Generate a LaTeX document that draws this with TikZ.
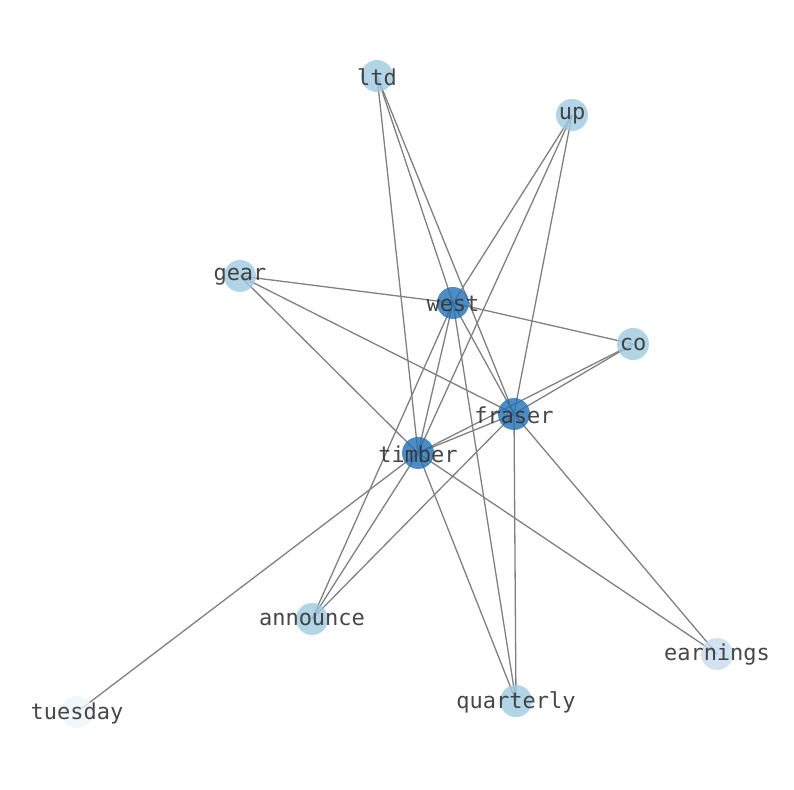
\documentclass[tikz,border=0pt]{standalone}
\usepackage{fontspec}
\setmonofont{DejaVu Sans Mono}
\usepackage{tikz}
\usetikzlibrary{backgrounds}
\definecolor{darkword}{HTML}{2171B5}
\definecolor{midword}{HTML}{9ECAE1}
\definecolor{paleword}{HTML}{C6DBEF}
\definecolor{faintword}{HTML}{EEF5FC}
\definecolor{wordtext}{HTML}{333333}
\tikzset{
    word/.style={circle, inner sep=0pt, minimum size=16pt, fill opacity=0.8, draw=none},
    wordlabel/.style={text=wordtext, font=\ttfamily\fontsize{11pt}{11pt}\selectfont, text opacity=0.9, yshift=-0.5pt},
    edge/.style={draw=gray, line width=0.65pt}
}

\begin{document}
\begin{tikzpicture}[x=0.5pt, y=-0.5pt]
    \useasboundingbox (0,0) rectangle (794,790);
    % Word nodes
    \node (ltd) [word, fill=midword] at (377,76) {};
    \node (up) [word, fill=midword] at (572,115) {};
    \node (gear) [word, fill=midword] at (240,276) {};
    \node (west) [word, fill=darkword] at (453,303) {};
    \node (co) [word, fill=midword] at (633,344) {};
    \node (fraser) [word, fill=darkword] at (514,414) {};
    \node (timber) [word, fill=darkword] at (418,453) {};
    \node (announce) [word, fill=midword] at (312,619) {};
    \node (earnings) [word, fill=paleword] at (717,654) {};
    \node (quarterly) [word, fill=midword] at (516,701) {};
    \node (tuesday) [word, fill=faintword] at (77,712) {};

    % Labels on top of the nodes
    \foreach \w in {ltd, up, gear, west, co, fraser, timber, announce, earnings, quarterly, tuesday}
        \node (\w-text) [wordlabel] at (\w.center) {\w};

    % Edges
    \begin{scope}[on background layer]
    \draw [edge] (ltd.center) -- (timber.center);
    \draw [edge] (ltd.center) -- (west.center);
    \draw [edge] (ltd.center) -- (fraser.center);
    \draw [edge] (up.center) -- (west.center);
    \draw [edge] (up.center) -- (timber.center);
    \draw [edge] (up.center) -- (fraser.center);
    \draw [edge] (gear.center) -- (west.center);
    \draw [edge] (gear.center) -- (fraser.center);
    \draw [edge] (gear.center) -- (timber.center);
    \draw [edge] (west.center) -- (co.center);
    \draw [edge] (west.center) -- (fraser.center);
    \draw [edge] (west.center) -- (timber.center);
    \draw [edge] (west.center) -- (announce.center);
    \draw [edge] (west.center) -- (quarterly.center);
    \draw [edge] (co.center) -- (fraser.center);
    \draw [edge] (co.center) -- (timber.center);
    \draw [edge] (fraser.center) -- (timber.center);
    \draw [edge] (fraser.center) -- (announce.center);
    \draw [edge] (fraser.center) -- (quarterly.center);
    \draw [edge] (fraser.center) -- (earnings.center);
    \draw [edge] (timber.center) -- (tuesday.center);
    \draw [edge] (timber.center) -- (earnings.center);
    \draw [edge] (timber.center) -- (quarterly.center);
    \draw [edge] (timber.center) -- (announce.center);
    \end{scope}
\end{tikzpicture}
\end{document}
